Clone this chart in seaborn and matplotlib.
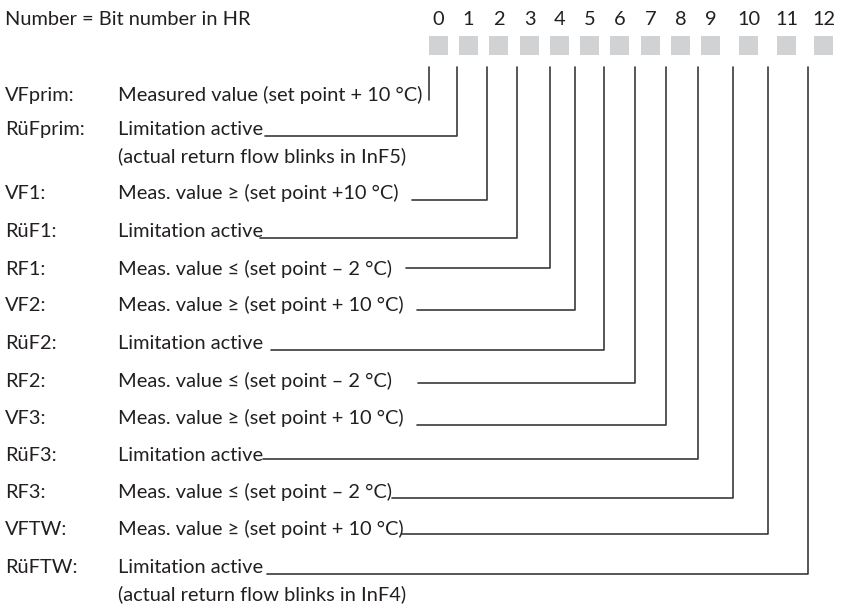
import matplotlib
matplotlib.use("Agg")
import matplotlib.pyplot as plt
import pandas as pd
import seaborn as sns

# signals, one per bit in the holding register
bits = list(range(13))
signals = ["VFprim:", "RüFprim:", "VF1:", "RüF1:", "RF1:", "VF2:", "RüF2:",
           "RF2:", "VF3:", "RüF3:", "RF3:", "VFTW:", "RüFTW:"]
descriptions = [
    "Measured value (set point + 10 °C)",
    "Limitation active",
    "Meas. value ≥ (set point +10 °C)",
    "Limitation active",
    "Meas. value ≤ (set point – 2 °C)",
    "Meas. value ≥ (set point + 10 °C)",
    "Limitation active",
    "Meas. value ≤ (set point – 2 °C)",
    "Meas. value ≥ (set point + 10 °C)",
    "Limitation active",
    "Meas. value ≤ (set point – 2 °C)",
    "Meas. value ≥ (set point + 10 °C)",
    "Limitation active",
]
notes = {1: "(actual return flow blinks in InF5)",
         12: "(actual return flow blinks in InF4)"}
header = "Number = Bit number in HR"

# layout (pixel space of the 844x605 figure)
box_x = [438.5, 468.5, 498.5, 529.5, 559.5, 589.5, 619.5, 650.5, 680.5,
         710.5, 748.5, 786.5, 823.5]
drop_x = [429, 457, 487, 517, 550, 575, 604, 635, 666, 698, 733, 768, 808]
row_base = [101, 135, 199, 237, 275, 311, 349, 387, 424, 461, 498, 535, 573]
lead_y = [100, 136, 200, 238, 268, 310, 350, 383, 425, 459, 498, 534, 574]
lead_x0 = [None, 265, 412, 260, 406, 417, 271, 418, 417, 263, 392, 402, 267]
top_y = 67
label_x, desc_x = 5, 118

sns.set_style("white")
plt.rcParams["font.family"] = ["Lato", "DejaVu Sans"]

fig = plt.figure(figsize=(8.44, 6.05), dpi=100)
ax = fig.add_axes([0, 0, 1, 1])

# connector paths
rows = []
for b in bits:
    if lead_x0[b] is None:
        pts = [(drop_x[b], lead_y[b]), (drop_x[b], top_y)]
    else:
        pts = [(lead_x0[b], lead_y[b]), (drop_x[b], lead_y[b]), (drop_x[b], top_y)]
    for i, (x, y) in enumerate(pts):
        rows.append({"bit": b, "order": i, "x": x, "y": y})
paths = pd.DataFrame(rows)

sns.lineplot(data=paths, x="x", y="y", units="bit", estimator=None,
             sort=False, color="#3a3a3a", linewidth=1.2, ax=ax)

boxes = pd.DataFrame({"x": box_x, "y": [45.5] * len(bits)})
sns.scatterplot(data=boxes, x="x", y="y", marker="s", s=175, color="#d1d2d4",
                edgecolor="none", ax=ax)

fs = 14.4
tc = "#231f20"
ax.text(label_x, 25, header, fontsize=fs, color=tc, va="baseline")
for b in bits:
    ax.text(box_x[b], 25, str(b), fontsize=fs, color=tc, ha="center", va="baseline")
    ax.text(label_x, row_base[b], signals[b], fontsize=fs, color=tc, va="baseline")
    ax.text(desc_x, row_base[b], descriptions[b], fontsize=fs, color=tc, va="baseline")
    if b in notes:
        ax.text(desc_x, row_base[b] + 27, notes[b], fontsize=fs, color=tc, va="baseline")

ax.set_xlim(0, 844)
ax.set_ylim(605, 0)
ax.axis("off")

fig.savefig("out.png", dpi=100)
